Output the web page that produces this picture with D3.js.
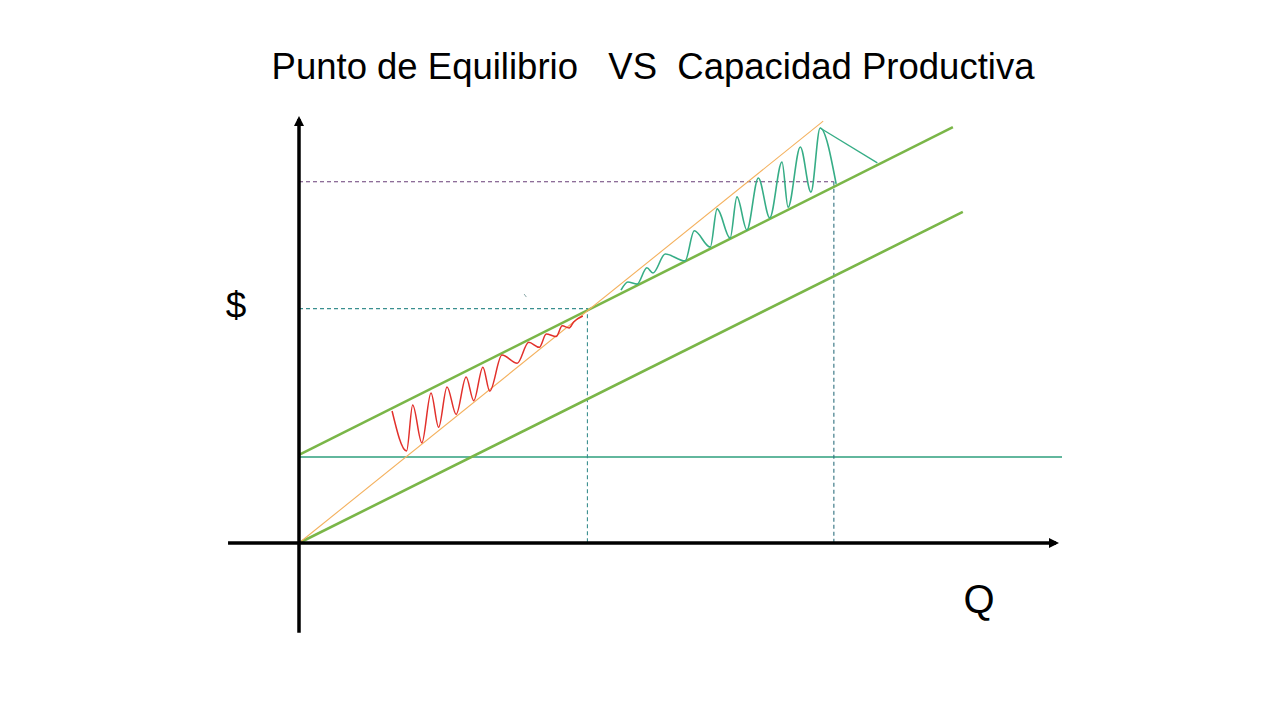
<!DOCTYPE html>
<html>
<head>
<meta charset="utf-8">
<script src="https://cdn.jsdelivr.net/npm/d3@7"></script>
<style>
  html, body { margin: 0; padding: 0; background: #ffffff; }
  svg { display: block; }
  text { font-family: "Liberation Sans", Arial, sans-serif; fill: #000; }
</style>
</head>
<body>
<svg id="chart" width="1280" height="720"></svg>
<script>
// ---- data (Q and $ in arbitrary units) ----
const titleText = "Punto de Equilibrio   VS  Capacidad Productiva";
const yLabel = "$";
const xLabel = "Q";

const qDomain = [0, 100];
const dDomain = [0, 100];
const qAxisExtent = [-9.3, 100];
const dAxisExtent = [-20.9, 100];

const fixedCost = 20;
const fixedCostExtent = [0, 100];
const totalCostLine = [[0, 20.5], [85.7, 96.7]];
const variableCostLine = [[0, 0], [87.0, 77.0]];
const revenueLine = [[0, 0], [68.7, 98.1]];
const breakEven = [37.8, 54.5];
const capacity = [70.1, 84.0];

// loss zone wave (between revenue and total cost, left of break-even)
const lossWave = [
  [12.2, 30.7], [14.1, 21.4], [14.9, 32.1], [16.1, 23.3], [17.3, 34.9],
  [18.3, 26.9], [19.4, 36.3], [20.6, 29.9], [21.9, 38.6], [22.9, 33.1],
  [24.1, 40.9], [25.0, 35.3], [26.6, 43.7], [28.6, 41.8], [30.1, 46.7],
  [31.5, 45.5], [32.4, 48.6], [33.7, 48.0], [34.5, 50.5], [35.4, 50.0],
  [36.0, 51.4], [37.2, 52.8]
];
// profit zone wave (between total cost and revenue, right of break-even)
const profitWave = [
  [42.2, 58.8], [43.1, 60.7], [44.3, 60.2], [45.6, 64.0], [46.4, 62.8],
  [48.0, 67.2], [50.6, 65.6], [51.8, 72.6], [53.9, 68.8], [54.8, 77.7],
  [56.5, 70.9], [57.4, 80.5], [58.7, 72.8], [60.2, 84.9], [61.7, 75.6],
  [63.3, 88.6], [64.1, 78.1], [65.7, 92.1], [67.1, 81.6], [68.3, 96.5],
  [70.4, 83.5]
];
const profitClose = [[68.3, 96.5], [75.8, 88.4]];
const strayMark = [[29.5, 57.9], [29.8, 57.2]];

// ---- drawing ----
const svg = d3.select("#chart");
const x = d3.scaleLinear().domain(qDomain).range([299, 1062]);
const y = d3.scaleLinear().domain(dDomain).range([543, 113]);
const line = d3.line().x(d => x(d[0])).y(d => y(d[1]));
const curve = d3.line().x(d => x(d[0])).y(d => y(d[1])).curve(d3.curveMonotoneX);

const defs = svg.append("defs");
defs.append("marker")
  .attr("id", "arrow").attr("viewBox", "0 0 10 10")
  .attr("refX", 7).attr("refY", 5)
  .attr("markerUnits", "userSpaceOnUse")
  .attr("markerWidth", 11).attr("markerHeight", 10)
  .attr("orient", "auto")
  .append("path").attr("d", "M0,0 L10,5 L0,10 Z").attr("fill", "#000");

// fixed cost
svg.append("path")
  .attr("d", line([[fixedCostExtent[0], fixedCost], [fixedCostExtent[1], fixedCost]]))
  .attr("stroke", "#2e9f7c").attr("stroke-width", 1.3).attr("fill", "none");

// dashed guides
svg.append("path")
  .attr("d", line([[0, breakEven[1]], breakEven, [breakEven[0], 0]]))
  .attr("stroke", "#3a8f8f").attr("stroke-width", 1.1).attr("fill", "none")
  .attr("stroke-dasharray", "4,3");
svg.append("path")
  .attr("d", line([[0, capacity[1]], capacity]))
  .attr("stroke", "#6a3f78").attr("stroke-width", 1.1).attr("fill", "none")
  .attr("stroke-dasharray", "4,3");
svg.append("path")
  .attr("d", line([capacity, [capacity[0], 0]]))
  .attr("stroke", "#2f707e").attr("stroke-width", 1.1).attr("fill", "none")
  .attr("stroke-dasharray", "4,3");

// cost lines
[totalCostLine, variableCostLine].forEach(l => {
  svg.append("path").attr("d", line(l))
    .attr("stroke", "#7ab648").attr("stroke-width", 2.6).attr("fill", "none");
});
// revenue
svg.append("path").attr("d", line(revenueLine))
  .attr("stroke", "#f4b15e").attr("stroke-width", 1.1).attr("fill", "none");

// waves
svg.append("path").attr("d", curve(lossWave))
  .attr("stroke", "#e2302b").attr("stroke-width", 1.5).attr("fill", "none");
svg.append("path").attr("d", curve(profitWave))
  .attr("stroke", "#36ad86").attr("stroke-width", 1.6).attr("fill", "none");
svg.append("path").attr("d", line(profitClose))
  .attr("stroke", "#36ad86").attr("stroke-width", 1.3).attr("fill", "none");
svg.append("path").attr("d", line(strayMark))
  .attr("stroke", "#8aa8a8").attr("stroke-width", 1).attr("fill", "none");

// axes
svg.append("line")
  .attr("x1", x(0)).attr("x2", x(0))
  .attr("y1", y(dAxisExtent[0])).attr("y2", y(dAxisExtent[1]) + 6)
  .attr("stroke", "#000").attr("stroke-width", 3.5)
  .attr("marker-end", "url(#arrow)");
svg.append("line")
  .attr("x1", x(qAxisExtent[0])).attr("x2", x(qAxisExtent[1]) - 6)
  .attr("y1", y(0)).attr("y2", y(0))
  .attr("stroke", "#000").attr("stroke-width", 3.5)
  .attr("marker-end", "url(#arrow)");

// texts
svg.append("text").attr("x", 653).attr("y", 79)
  .attr("text-anchor", "middle").attr("font-size", 36.5)
  .style("white-space", "pre").attr("xml:space", "preserve")
  .text(titleText);
svg.append("text").attr("x", 236).attr("y", 318)
  .attr("text-anchor", "middle").attr("font-size", 37)
  .text(yLabel);
svg.append("text").attr("x", 979).attr("y", 613)
  .attr("text-anchor", "middle").attr("font-size", 40)
  .text(xLabel);
</script>
</body>
</html>
